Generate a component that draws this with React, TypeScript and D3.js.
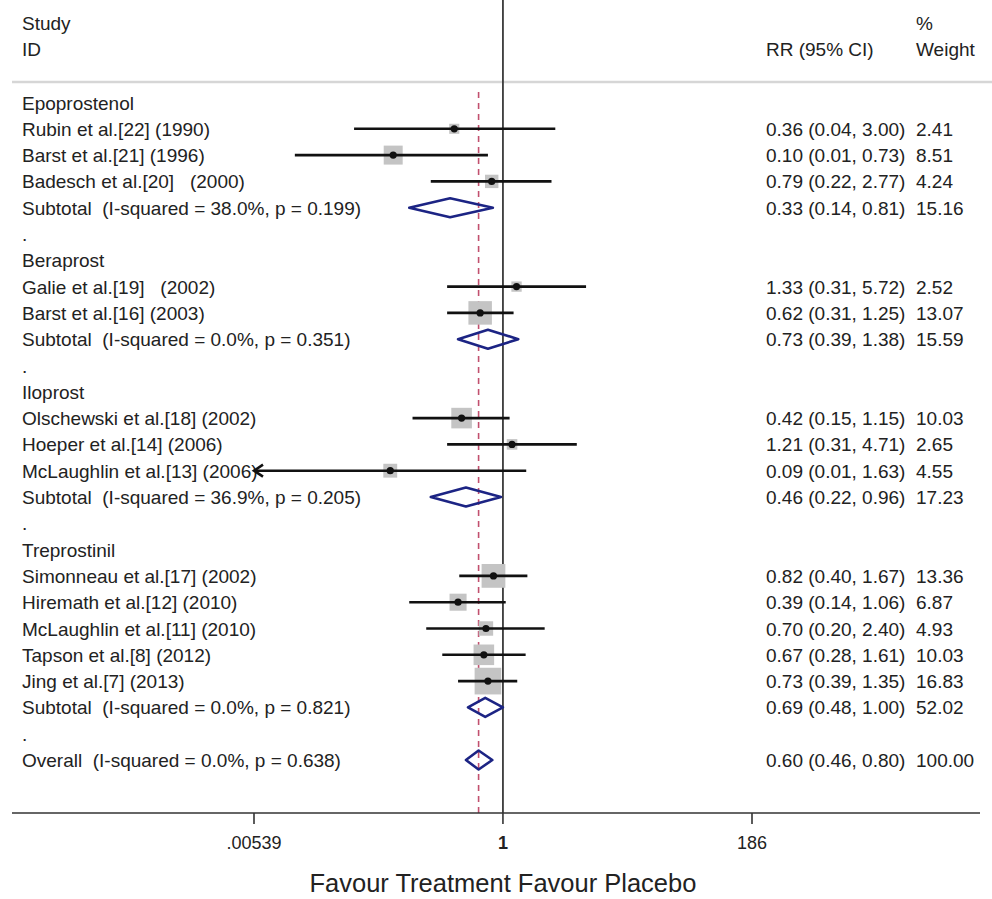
import React from "react";
import * as d3 from "d3";

// ---- data ----
const rowLabels = [
  "Epoprostenol",
  "Rubin et al.[22] (1990)",
  "Barst et al.[21] (1996)",
  "Badesch et al.[20]   (2000)",
  "Subtotal  (I-squared = 38.0%, p = 0.199)",
  ".",
  "Beraprost",
  "Galie et al.[19]   (2002)",
  "Barst et al.[16] (2003)",
  "Subtotal  (I-squared = 0.0%, p = 0.351)",
  ".",
  "Iloprost",
  "Olschewski et al.[18] (2002)",
  "Hoeper et al.[14] (2006)",
  "McLaughlin et al.[13] (2006)",
  "Subtotal  (I-squared = 36.9%, p = 0.205)",
  ".",
  "Treprostinil",
  "Simonneau et al.[17] (2002)",
  "Hiremath et al.[12] (2010)",
  "McLaughlin et al.[11] (2010)",
  "Tapson et al.[8] (2012)",
  "Jing et al.[7] (2013)",
  "Subtotal  (I-squared = 0.0%, p = 0.821)",
  ".",
  "Overall  (I-squared = 0.0%, p = 0.638)",
];
// row type: h=header, s=study, d=diamond, b=blank
const rowTypes = "hsssdbhssdbhsssdbhsssssdbd".split("");
const rowRR =     [null,0.36,0.10,0.79,0.33,null,null,1.33,0.62,0.73,null,null,0.42,1.21,0.094,0.46,null,null,0.82,0.39,0.70,0.67,0.73,0.69,null,0.60];
const rowLo =     [null,0.044,0.0127,0.22,0.14,null,null,0.31,0.31,0.39,null,null,0.15,0.31,0.0052,0.22,null,null,0.40,0.14,0.20,0.28,0.39,0.48,null,0.46];
const rowHi =     [null,3.00,0.73,2.77,0.81,null,null,5.72,1.25,1.38,null,null,1.15,4.71,1.63,0.96,null,null,1.67,1.06,2.40,1.61,1.35,1.00,null,0.80];
const rowCI = [
  "", "0.36 (0.04, 3.00)", "0.10 (0.01, 0.73)", "0.79 (0.22, 2.77)", "0.33 (0.14, 0.81)", "",
  "", "1.33 (0.31, 5.72)", "0.62 (0.31, 1.25)", "0.73 (0.39, 1.38)", "",
  "", "0.42 (0.15, 1.15)", "1.21 (0.31, 4.71)", "0.09 (0.01, 1.63)", "0.46 (0.22, 0.96)", "",
  "", "0.82 (0.40, 1.67)", "0.39 (0.14, 1.06)", "0.70 (0.20, 2.40)", "0.67 (0.28, 1.61)", "0.73 (0.39, 1.35)", "0.69 (0.48, 1.00)", "",
  "0.60 (0.46, 0.80)",
];
const rowWeight = [
  "", "2.41", "8.51", "4.24", "15.16", "",
  "", "2.52", "13.07", "15.59", "",
  "", "10.03", "2.65", "4.55", "17.23", "",
  "", "13.36", "6.87", "4.93", "10.03", "16.83", "52.02", "",
  "100.00",
];
const tickValues = [0.00539, 1, 186];
const tickLabels = [".00539", "1", "186"];
const overallRR = 0.60;
const axisTitle = "Favour Treatment Favour Placebo";

const FONT = "'Liberation Sans', Arial, sans-serif";

export default function App() {
  const x = d3.scaleLog().domain([0.00539, 186]).range([254, 752]);
  const y = d3.scaleLinear().domain([0, 25]).range([102.5, 760]);
  const axisY = 813;
  const fs = 19;
  const boxK = 6.5;
  const xMin = x.domain()[0];
  const pre = { whiteSpace: "pre" as const };

  return (
    <svg
      width={992}
      height={899}
      style={{ position: "absolute", left: 0, top: 0, background: "#fff" }}
      fontFamily={FONT}
      xmlSpace="preserve"
    >
      <rect x={0} y={0} width={992} height={899} fill="#fff" />
      {/* headers */}
      <text x={22} y={30} fontSize={fs} fill="#222">Study</text>
      <text x={22} y={56} fontSize={fs} fill="#222">ID</text>
      <text x={766} y={56} fontSize={fs} fill="#222">RR (95% CI)</text>
      <text x={916} y={30} fontSize={fs} fill="#222">%</text>
      <text x={916} y={56} fontSize={fs} fill="#222">Weight</text>
      <line x1={12} x2={992} y1={82} y2={82} stroke="#d6d6d6" strokeWidth={2.5} />

      {/* null line */}
      <line x1={x(1)} x2={x(1)} y1={0} y2={axisY} stroke="#3a3a3a" strokeWidth={1.8} />
      {/* overall dashed line */}
      <line x1={x(overallRR)} x2={x(overallRR)} y1={92} y2={axisY} stroke="#c2506e" strokeWidth={1.6} strokeDasharray="6,5" />

      {/* rows */}
      {rowLabels.map((lab, i) => {
        const cy = y(i);
        const t = rowTypes[i];
        const els: any[] = [];
        els.push(
          <text key="l" x={22} y={cy + 7} fontSize={fs} fill="#222" style={pre}>{lab}</text>
        );
        if (rowCI[i]) {
          els.push(<text key="c" x={766} y={cy + 7} fontSize={fs} fill="#222" style={pre}>{rowCI[i]}</text>);
          els.push(<text key="w" x={916} y={cy + 7} fontSize={fs} fill="#222">{rowWeight[i]}</text>);
        }
        if (t === "s") {
          const rr = rowRR[i] as number;
          const lo = rowLo[i] as number;
          const hi = rowHi[i] as number;
          const w = parseFloat(rowWeight[i]);
          const side = boxK * Math.sqrt(w);
          const cx = x(rr);
          const clipped = lo < xMin;
          const x1 = x(Math.max(lo, xMin));
          const x2 = x(hi);
          els.push(
            <rect key="b" x={cx - side / 2} y={cy - side / 2} width={side} height={side} fill="#c4c4c4" />
          );
          els.push(<line key="ci" x1={x1} x2={x2} y1={cy} y2={cy} stroke="#111" strokeWidth={2.6} />);
          if (clipped) {
            els.push(
              <path key="ar" d={`M${x1 + 9},${cy - 6} L${x1},${cy} L${x1 + 9},${cy + 6}`} fill="none" stroke="#111" strokeWidth={2.6} />
            );
          }
          els.push(<circle key="p" cx={cx} cy={cy} r={3.6} fill="#111" />);
        } else if (t === "d") {
          const rr = rowRR[i] as number;
          const lo = rowLo[i] as number;
          const hi = rowHi[i] as number;
          const h = 9.5;
          const d = `M${x(lo)},${cy} L${x(rr)},${cy - h} L${x(hi)},${cy} L${x(rr)},${cy + h} Z`;
          els.push(<path key="dm" d={d} fill="none" stroke="#1c2484" strokeWidth={2.6} strokeLinejoin="round" />);
        }
        return <g key={i}>{els}</g>;
      })}

      {/* axis */}
      <line x1={12} x2={980} y1={axisY} y2={axisY} stroke="#333" strokeWidth={1.6} />
      {tickValues.map((v, i) => (
        <g key={i}>
          <line x1={x(v)} x2={x(v)} y1={axisY} y2={axisY + 11} stroke="#333" strokeWidth={1.6} />
          <text
            x={x(v)}
            y={849}
            fontSize={18}
            textAnchor="middle"
            fontWeight={v === 1 ? "bold" : "normal"}
            fill="#222"
          >
            {tickLabels[i]}
          </text>
        </g>
      ))}
      <text x={x(1)} y={892} fontSize={25.5} textAnchor="middle" fill="#222">{axisTitle}</text>
    </svg>
  );
}
